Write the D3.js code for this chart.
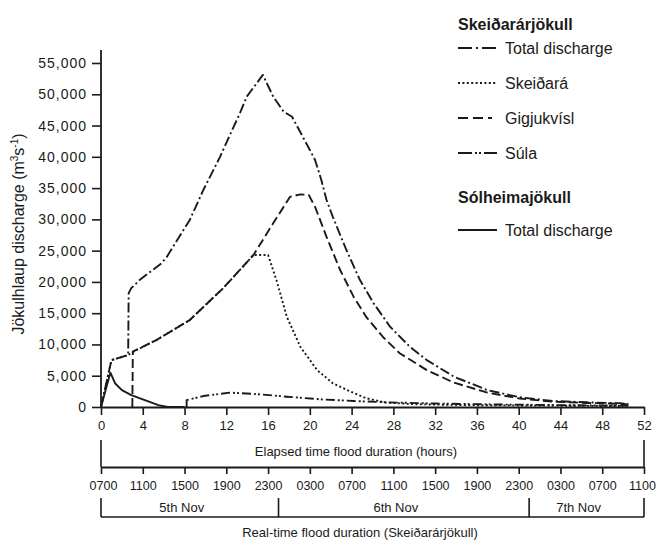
<!DOCTYPE html>
<html>
<head>
<meta charset="utf-8">
<script src="https://cdn.jsdelivr.net/npm/d3@7"></script>
<style>
  html, body { margin: 0; padding: 0; background: #fff; }
  svg { display: block; font-family: "Liberation Sans", Arial, Helvetica, sans-serif; }
</style>
</head>
<body>
<svg id="chart" width="656" height="541"></svg>
<script>
// Elapsed hours and discharge (m3/s) for each hydrograph
const skeidararjokullTotal = [
  [0, 0], [1, 7500], [2.6, 8300], [2.65, 18200], [2.9, 19000], [3.7, 20300],
  [5.8, 23000], [6.3, 24000], [8.5, 29900], [9.8, 34700], [11.4, 40000],
  [12.7, 44800], [13.3, 46950], [13.95, 49600], [15.5, 53100], [16.5, 49600],
  [17.5, 47200], [18.3, 46400], [20.0, 41100], [20.5, 39500], [21.1, 36300],
  [21.6, 33100], [22.2, 30400], [23.5, 25100], [24.8, 20300], [26.1, 16600],
  [27.7, 12800], [29.6, 9600], [31.2, 7500], [33.8, 4850], [37, 2700],
  [40.1, 1550], [43.3, 960], [46.5, 750], [49.7, 600], [50.5, 500]
];
const skeidara = [
  [0, 0], [1, 7500], [2.6, 8300], [3.1, 8850], [5.3, 10700], [8.5, 13900],
  [11.7, 19000], [14.6, 24300], [16, 24300], [16.8, 20300], [17.8, 14400],
  [19.1, 9600], [20.7, 5900], [22.2, 3800], [23.9, 2450], [25.4, 1400],
  [27.3, 700], [30, 450], [35, 300], [40, 250], [45, 200], [50, 150]
];
const gigjukvisl = [
  [3, 0], [3.05, 8850], [5.3, 10700], [8.5, 13900], [11.7, 19000], [14.6, 24300],
  [16.5, 29400], [18.1, 33600], [19.1, 34000], [19.9, 33900], [20.5, 32000],
  [21.6, 27200], [22.9, 21900], [24.2, 17600], [25.4, 14400], [27, 11200],
  [28.6, 8600], [31.2, 5900], [33.8, 3900], [37, 2300], [40.1, 1350],
  [43.3, 850], [46.5, 650], [49.7, 500], [50.5, 400]
];
const sula = [
  [8.2, 0], [8.2, 1100], [9.8, 1750], [12.35, 2300], [14.6, 2100], [17.8, 1650],
  [21, 1230], [24.2, 960], [27.4, 750], [32, 550], [38, 400], [44, 300], [50.5, 200]
];
const solheimajokullTotal = [
  [0, 0], [0.9, 5500], [1.34, 3800], [2.0, 2700], [2.9, 1900], [4.2, 1100],
  [5.5, 300], [6.4, 0], [8, 0]
];

// Axis ticks and labels
const yTicks = d3.range(0, 55001, 5000);
const hourTicks = d3.range(0, 53, 4);
const clockLabels = ["0700", "1100", "1500", "1900", "2300", "0300", "0700",
                     "1100", "1500", "1900", "2300", "0300", "0700", "1100"];
const dayNames = ["5th Nov", "6th Nov", "7th Nov"];
const dayBounds = [0, 17, 41, 52];   // midnight boundaries in elapsed hours

const ink = "#1a1a1a";
const svg = d3.select("#chart");

const x = d3.scaleLinear().domain([0, 52]).range([101, 644]);
const y = d3.scaleLinear().domain([0, 55000]).range([407, 63]);

// Y axis
const yAxis = svg.append("g").attr("transform", `translate(${x(0)},0)`)
  .call(d3.axisLeft(y).tickValues(yTicks).tickSize(9).tickPadding(5)
    .tickFormat(d3.format(",")));
yAxis.select(".domain").remove();
yAxis.selectAll("line").attr("stroke", ink).attr("stroke-width", 1.6);
yAxis.selectAll("text").attr("fill", ink).attr("font-size", 14)
  .attr("letter-spacing", 1).attr("font-family", "Liberation Sans, Arial, sans-serif");
svg.append("line").attr("x1", x(0)).attr("x2", x(0)).attr("y1", 50).attr("y2", y(0))
  .attr("stroke", ink).attr("stroke-width", 1.8);

// Y axis title
const yt = svg.append("text")
  .attr("transform", `translate(24,${(125 + 343) / 2}) rotate(-90)`)
  .attr("text-anchor", "middle").attr("font-size", 16).attr("fill", ink);
yt.append("tspan").text("Jökulhlaup discharge (m");
yt.append("tspan").attr("font-size", 10).attr("dy", -6).text("3");
yt.append("tspan").attr("dy", 6).text("s");
yt.append("tspan").attr("font-size", 10).attr("dy", -6).text("-1");
yt.append("tspan").attr("dy", 6).text(")");

// Elapsed-time axis
const xAxis = svg.append("g").attr("transform", `translate(0,${y(0)})`)
  .call(d3.axisBottom(x).tickValues(hourTicks).tickSize(8).tickPadding(6).tickSizeOuter(0));
xAxis.select(".domain").attr("stroke", ink).attr("stroke-width", 1.8);
xAxis.selectAll("line").attr("stroke", ink).attr("stroke-width", 1.6);
xAxis.selectAll("text").attr("fill", ink).attr("font-size", 13);

svg.append("text").attr("x", 356).attr("y", 456).attr("text-anchor", "middle")
  .attr("font-size", 13).attr("fill", ink).text("Elapsed time flood duration (hours)");

// Clock-time axis
const clockY = 467;
const cAxis = svg.append("g").attr("transform", `translate(0,${clockY})`)
  .call(d3.axisBottom(x).tickValues(hourTicks).tickSize(7).tickPadding(7).tickSizeOuter(0)
    .tickFormat((d, i) => clockLabels[i]));
cAxis.select(".domain").attr("stroke", ink).attr("stroke-width", 1.8);
cAxis.selectAll("line").attr("stroke", ink).attr("stroke-width", 1.6);
cAxis.selectAll("text").attr("fill", ink).attr("font-size", 12.5)
  .attr("dx", (d, i) => i === 0 ? 2 : (i === hourTicks.length - 1 ? -2 : 0));

// Connectors between the two time axes
[0, 52].forEach(h => {
  svg.append("line").attr("x1", x(h)).attr("x2", x(h)).attr("y1", 440).attr("y2", clockY)
    .attr("stroke", ink).attr("stroke-width", 1.6);
});

// Day bracket
const brY = 517;
svg.append("line").attr("x1", x(0)).attr("x2", x(52)).attr("y1", brY).attr("y2", brY)
  .attr("stroke", ink).attr("stroke-width", 1.6);
dayBounds.forEach(h => {
  svg.append("line").attr("x1", x(h)).attr("x2", x(h)).attr("y1", 498).attr("y2", brY)
    .attr("stroke", ink).attr("stroke-width", 1.6);
});
dayNames.forEach((name, i) => {
  svg.append("text").attr("x", x((dayBounds[i] + dayBounds[i + 1]) / 2) - 8).attr("y", 512)
    .attr("text-anchor", "middle").attr("font-size", 13).attr("fill", ink).text(name);
});
svg.append("text").attr("x", 360).attr("y", 537).attr("text-anchor", "middle")
  .attr("font-size", 13).attr("fill", ink).text("Real-time flood duration (Skeiðarárjökull)");

// Hydrographs
const styles = {
  total: "10,3,2,3",
  skeidara: "2,2.4",
  gigjukvisl: "9,4",
  sula: "9,3,2,2,2,3",
  solid: null
};
const line = d3.line().x(d => x(d[0])).y(d => y(d[1]));
const series = [
  { data: skeidara, dash: styles.skeidara },
  { data: gigjukvisl, dash: styles.gigjukvisl },
  { data: sula, dash: styles.sula },
  { data: skeidararjokullTotal, dash: styles.total },
  { data: solheimajokullTotal, dash: styles.solid }
];
svg.append("g").selectAll("path").data(series).join("path")
  .attr("d", d => line(d.data))
  .attr("fill", "none").attr("stroke", ink).attr("stroke-width", 1.9)
  .attr("stroke-linejoin", "round")
  .attr("stroke-dasharray", d => d.dash);

// Legend
const leg = svg.append("g").attr("fill", ink);
const legendRows = [
  { type: "title", text: "Skeiðarárjökull", y: 30 },
  { type: "item", text: "Total discharge", y: 48, dash: "14,4,2,4" },
  { type: "item", text: "Skeiðará", y: 83, dash: "2,2.4" },
  { type: "item", text: "Gigjukvísl", y: 118, dash: "10,5,10,5,4" },
  { type: "item", text: "Súla", y: 153, dash: "14,3,2,2,2,3" },
  { type: "title", text: "Sólheimajökull", y: 203 },
  { type: "item", text: "Total discharge", y: 230, dash: null }
];
legendRows.forEach(r => {
  if (r.type === "title") {
    leg.append("text").attr("x", 458).attr("y", r.y).attr("font-size", 16)
      .attr("font-weight", "bold").text(r.text);
  } else {
    leg.append("line").attr("x1", 458).attr("x2", 497).attr("y1", r.y).attr("y2", r.y)
      .attr("stroke", ink).attr("stroke-width", 1.9).attr("stroke-dasharray", r.dash);
    leg.append("text").attr("x", 505).attr("y", r.y + 6).attr("font-size", 16).text(r.text);
  }
});
</script>
</body>
</html>
